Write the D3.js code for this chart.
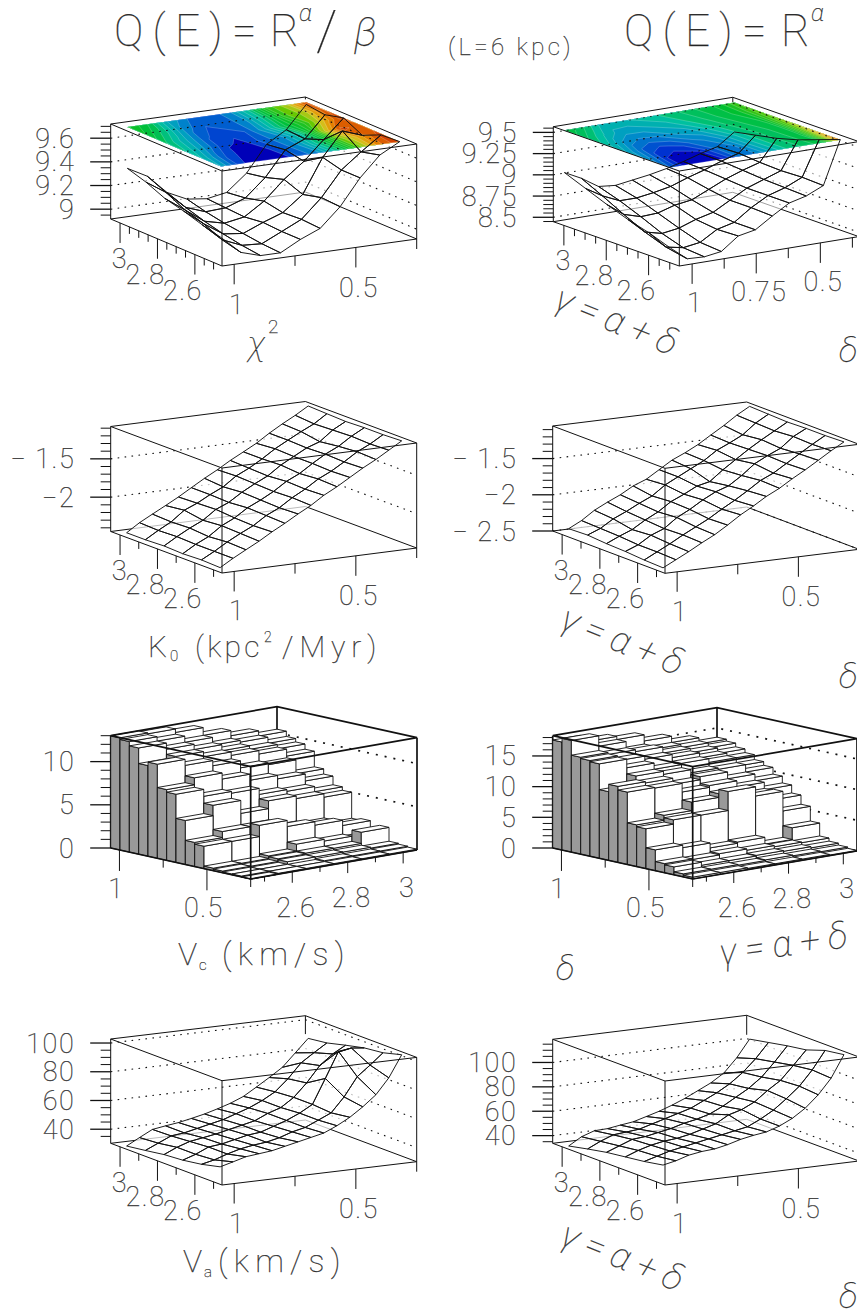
<!DOCTYPE html>
<html>
<head>
<meta charset="utf-8">
<script src="https://cdn.jsdelivr.net/npm/d3@7"></script>
<style>
	html, body { margin: 0; padding: 0; background: #fff; }
	svg { display: block; }
	text { font-family: Roboto, 'Open Sans', sans-serif; font-weight: 100; fill: #222; stroke: #444; stroke-width: 0.25px; letter-spacing: 1.5px; opacity: 0.99; }
	text.greek { font-style: italic; letter-spacing: 0; }
</style>
</head>
<body>
<svg id="main-vis" width="857" height="1315"></svg>
<script>
// GRID OF THE SCANS
const gamma_nodes = [2.5, 2.6, 2.7, 2.8, 2.9, 3.0]
const delta_nodes = [1.023, 0.97, 0.917, 0.863, 0.81, 0.757, 0.703, 0.65, 0.597, 0.543, 0.49, 0.437, 0.383, 0.33, 0.277]
const delta_nodes_chi2_left = [1.02, 0.938, 0.857, 0.775, 0.693, 0.612, 0.53, 0.448, 0.367, 0.285]
const delta_nodes_chi2_right = [1.048, 0.982, 0.915, 0.849, 0.783, 0.716, 0.65, 0.584, 0.518, 0.451, 0.385]

// CHI2 (ROWS ARE GAMMA, COLUMNS ARE DELTA)
const chi2_left = [
	[9.12, 8.97, 8.92, 8.92, 9.01, 9.08, 9.24, 9.46, 9.63, 9.72],
	[9.16, 9.01, 8.94, 8.93, 9.01, 9.09, 9.25, 9.46, 9.59, 9.71],
	[9.21, 9.08, 8.97, 8.95, 9.02, 9.08, 9.21, 9.50, 9.70, 9.64],
	[9.25, 9.13, 9.01, 8.97, 9.00, 9.11, 9.27, 9.40, 9.56, 9.72],
	[9.32, 9.21, 9.06, 9.00, 9.01, 9.07, 9.22, 9.43, 9.50, 9.68],
	[9.37, 9.28, 9.12, 9.04, 9.02, 9.05, 9.19, 9.41, 9.51, 9.70]
]
const chi2_right = [
	[8.62, 8.46, 8.45, 8.48, 8.63, 8.67, 8.80, 8.92, 8.97, 9.06, 9.57],
	[8.71, 8.51, 8.47, 8.50, 8.62, 8.67, 8.81, 8.92, 8.98, 9.07, 9.48],
	[8.78, 8.60, 8.55, 8.58, 8.65, 8.70, 8.81, 8.92, 8.99, 9.06, 9.39],
	[8.87, 8.72, 8.66, 8.67, 8.73, 8.76, 8.85, 8.94, 9.01, 9.07, 9.32],
	[8.97, 8.85, 8.76, 8.76, 8.79, 8.83, 8.90, 8.96, 9.03, 9.09, 9.27],
	[9.07, 8.97, 8.84, 8.82, 8.85, 8.88, 8.92, 8.97, 9.03, 9.08, 9.22]
]
// K0
const k0_left = [
	[-2.43, -2.33, -2.24, -2.15, -2.05, -1.96, -1.86, -1.77, -1.66, -1.57, -1.47, -1.37, -1.28, -1.18, -1.08],
	[-2.42, -2.33, -2.23, -2.14, -2.06, -1.95, -1.87, -1.76, -1.67, -1.56, -1.48, -1.38, -1.27, -1.19, -1.09],
	[-2.43, -2.33, -2.25, -2.13, -2.05, -1.94, -1.86, -1.77, -1.66, -1.58, -1.47, -1.37, -1.29, -1.18, -1.09],
	[-2.42, -2.32, -2.23, -2.15, -2.03, -1.96, -1.85, -1.76, -1.68, -1.56, -1.47, -1.38, -1.32, -1.19, -1.10],
	[-2.43, -2.33, -2.24, -2.11, -2.04, -1.95, -1.87, -1.75, -1.67, -1.57, -1.46, -1.37, -1.28, -1.20, -1.09],
	[-2.43, -2.32, -2.23, -2.14, -2.05, -1.95, -1.85, -1.76, -1.66, -1.57, -1.48, -1.37, -1.27, -1.18, -1.08]
]
const k0_right = [
	[-2.48, -2.39, -2.30, -2.20, -2.11, -2.00, -1.88, -1.78, -1.67, -1.58, -1.47, -1.37, -1.26, -1.15, -1.05],
	[-2.47, -2.38, -2.29, -2.19, -2.10, -2.01, -1.90, -1.80, -1.69, -1.57, -1.49, -1.38, -1.27, -1.16, -1.06],
	[-2.45, -2.38, -2.27, -2.20, -2.07, -1.98, -1.87, -1.78, -1.72, -1.60, -1.46, -1.37, -1.29, -1.15, -1.06],
	[-2.44, -2.36, -2.29, -2.18, -2.09, -1.97, -1.89, -1.80, -1.76, -1.62, -1.50, -1.38, -1.27, -1.17, -1.07],
	[-2.42, -2.35, -2.24, -2.16, -2.07, -1.99, -1.86, -1.77, -1.68, -1.59, -1.47, -1.39, -1.30, -1.16, -1.06],
	[-2.43, -2.34, -2.22, -2.13, -2.05, -1.95, -1.88, -1.77, -1.66, -1.58, -1.49, -1.38, -1.27, -1.15, -1.05]
]
// VA
const va_left = [
	[40.1, 42.5, 45, 46, 47, 49, 51, 53, 55, 59, 63.8, 70, 77.3, 88, 103],
	[37, 39, 42, 44.5, 46, 47, 49, 52, 54, 58, 62, 72, 85, 92, 99.5],
	[35, 38, 42, 43, 45, 47, 48, 51, 54, 58, 63, 80, 97.7, 99, 98],
	[34, 38, 41, 42.5, 44, 46, 48, 50, 54, 57, 63, 72, 83, 90, 95],
	[32, 36, 40, 41, 43, 45, 47, 50, 53, 57, 62, 70, 80, 86, 91.7],
	[30.2, 35, 39.6, 41, 42.2, 44, 46, 48.5, 51.3, 55, 60.4, 66, 72, 81, 90]
]
const va_right = [
	[46.8, 49, 52.3, 54, 54.8, 57, 60, 62, 63.5, 67, 72, 79, 88.7, 101, 119],
	[44, 47, 50, 52, 54, 56, 58, 60, 62, 67, 73, 81, 90, 102, 116.7],
	[42, 46, 49, 51, 52, 54, 57, 60, 66, 69, 74, 82, 89, 100, 111.4],
	[40, 44, 48, 49, 51, 53, 56, 58, 61, 66, 72, 78, 86, 97, 109],
	[37, 42, 46, 47, 48, 51, 54, 57, 60, 65, 70, 76, 84, 94, 106],
	[33.7, 40, 43.6, 44, 45.6, 47, 50, 53, 56.7, 61, 66, 71, 77.8, 89, 103]
]
// VC HISTOGRAMS (ROWS ARE DELTA BINS FROM 1.05 DOWN, COLUMNS ARE GAMMA BINS)
const vc_left = [
	[13, 12.9, 12.5, 11.6, 11, 10.4],
	[12.8, 12.3, 11.6, 10.7, 10.5, 9.8],
	[12.3, 11.6, 11, 10.3, 9.9, 9.4],
	[10.5, 11, 10.4, 10, 9.6, 8.8],
	[10.9, 10.2, 9.6, 8.8, 8.6, 7],
	[8.2, 9, 8.3, 7.6, 7.2, 6.4],
	[7.9, 7.1, 6.9, 6.2, 6, 5.4],
	[5.1, 6.3, 4.8, 5.7, 5.4, 5],
	[2.8, 3.5, 3.5, 2.8, 2.6, 2],
	[2.6, 2.6, 3.9, 3.2, 2.8, 2.2],
	[0.3, 0.3, 0.6, 1.4, 1.2, 1],
	[0.2, 0.2, 0.5, 0.6, 0.6, 1.9],
	[0.1, 0.1, 0.4, 0.4, 0.4, 0.3],
	[0.1, 0.1, 0.1, 0.2, 0.2, 0.2],
	[0, 0.1, 0.1, 0.1, 0.1, 0.1]
]
const vc_right = [
	[17.6, 17, 16.5, 15.5, 14.5, 13.5],
	[18.2, 16.5, 15, 14.5, 14, 13.2],
	[15.8, 15.5, 15.2, 14.2, 13.5, 12.6],
	[15.6, 14.8, 14.3, 13.8, 13, 12],
	[15.4, 14, 13, 13.2, 12.6, 11.2],
	[11.2, 13, 12.5, 12, 11.8, 10.6],
	[12.4, 12.2, 11.2, 11.7, 10.6, 9.5],
	[11.8, 11.7, 10.3, 10.6, 9.6, 8.4],
	[6.8, 7.6, 9, 9.6, 8.6, 7.1],
	[6.5, 7.2, 7.2, 10.3, 8.8, 5.6],
	[3.4, 3, 2.2, 2.4, 1.3, 3.2],
	[1.5, 1.4, 1.6, 1.4, 1.2, 1.1],
	[1.3, 0.8, 0.8, 0.9, 0.8, 0.6],
	[0.5, 0.5, 0.4, 0.5, 0.4, 0.3],
	[0.3, 0.3, 0.2, 0.2, 0.2, 0.1]
]
// TICKS
const gamma_ticks = [2.6, 2.8, 3]
const gamma_labels = ['2.6', '2.8', '3']
const delta_ticks = [1, 0.5]
const delta_labels = ['1', '0.5']
const delta_ticks_fine = [1, 0.75, 0.5]
const delta_labels_fine = ['1', '0.75', '0.5']

// ROOT LIKE RAINBOW FOR THE TOP PLANE
const palette = d3.scaleLinear()
.domain([0, 0.1, 0.2, 0.3, 0.4, 0.5, 0.6, 0.7, 0.8, 0.9, 1])
.range(['#0000b8', '#0018d0', '#0058d0', '#0098c8', '#00c0a0', '#00c030', '#60c800', '#d0c820', '#e89000', '#d85000', '#cc3000'])

const svg = d3.select('svg#main-vis')
const pathline = d3.line()
let clip_id = 0

function txt (str, x, y, size, opts = {}) {
	const { anchor = 'start', rot = 0, len = null, greek = false } = opts
	const t = svg.append('text')
	.attr('x', x).attr('y', y)
	.attr('font-size', size)
	.attr('text-anchor', anchor)
	.classed('greek', greek)
	.text(str)
	if (len) t.attr('textLength', len).attr('lengthAdjust', 'spacing')
	if (rot) t.attr('transform', `rotate(${rot} ${x} ${y})`)
	return t
}

function makeBox (c, domains) {
	const { F, R, L, top } = c
	const ex = [R[0] - F[0], R[1] - F[1]]
	const ey = [L[0] - F[0], L[1] - F[1]]
	const h = F[1] - top
	const su = d3.scaleLinear().domain(domains.u).range([0, 1])
	const sv = d3.scaleLinear().domain(domains.v).range([0, 1])
	const sw = d3.scaleLinear().domain(domains.z).range([0, 1])
	// RAW PROJECTION WITH UNIT COORDINATES
	const raw = (u, v, w) => [F[0] + u * ex[0] + v * ey[0], F[1] + u * ex[1] + v * ey[1] - w * h]
	const pt = (a, b, z) => raw(su(a), sv(b), sw(z))
	return { raw, pt, su, sv, sw, h }
}

// THE BACK EDGE STOPS WHERE THE SURFACE HIDES IT
function drawBack (b, p, back_stop) {
	const { raw, sw } = b
	const g = svg.append('g').attr('fill', 'none').attr('stroke', '#111').attr('stroke-width', p.box_width)
	const seg = (pts) => g.append('path').attr('d', pathline(pts))
	seg([raw(0, 1, 0), raw(1, 1, 0), raw(1, 0, 0)])
	seg([raw(1, 1, sw(back_stop)), raw(1, 1, 1)])
	seg([raw(0, 1, 0), raw(0, 1, 1)])
	seg([raw(1, 0, 0), raw(1, 0, 1)])
	// DOTTED WALL GRID
	p.z_major.forEach(z => {
		g.append('path')
		.attr('d', pathline([raw(0, 1, sw(z)), raw(1, 1, sw(z)), raw(1, 0, sw(z))]))
		.attr('stroke-width', p.dot_width)
		.attr('stroke-dasharray', p.dots)
	})
}

function drawFront (b, p) {
	const { raw } = b
	const g = svg.append('g').attr('fill', 'none').attr('stroke', '#111').attr('stroke-width', p.box_width)
	const seg = (pts) => g.append('path').attr('d', pathline(pts))
	seg([raw(0, 1, 1), raw(1, 1, 1), raw(1, 0, 1), raw(0, 0, 1), raw(0, 1, 1)])
	seg([raw(0, 0, 0), raw(0, 0, 1)])
	seg([raw(0, 1, 0), raw(0, 0, 0), raw(1, 0, 0)])
}

function drawZAxis (b, p) {
	const { raw, sw } = b
	const g = svg.append('g').attr('stroke', '#111').attr('stroke-width', 1)
	const [z0, z1] = p.z
	d3.range(Math.ceil(z0 / p.z_minor - 1e-6), Math.floor(z1 / p.z_minor + 1e-6) + 1).map(i => i * p.z_minor).forEach(z => {
		const [x, y] = raw(0, 1, sw(z))
		const major = p.z_major.some(m => Math.abs(m - z) < 1e-6)
		g.append('line').attr('x1', x - (major ? 20.5 : 10)).attr('x2', x).attr('y1', y).attr('y2', y)
		.attr('stroke-width', major ? 1.3 : 1)
	})
	p.z_major.forEach((z, i) => {
		const [x, y] = raw(0, 1, sw(z))
		txt(p.z_labels[i], x - 35.5, y + 9.5, 27, { anchor: 'end' })
	})
}

// TICKS BELOW AN EDGE, EITHER ALONG U OR ALONG V
function drawEdgeAxis (pos, ticks, labels, minors, o) {
	const g = svg.append('g').attr('stroke', '#111').attr('stroke-width', 1)
	ticks.forEach((t, i) => {
		const [x, y] = pos(t)
		g.append('line').attr('x1', x).attr('x2', x).attr('y1', y).attr('y2', y + o.major)
		txt(labels[i], x + o.dx, y + o.major + o.dy, 27, { anchor: o.anchor })
	})
	minors.forEach(t => {
		const [x, y] = pos(t)
		g.append('line').attr('x1', x).attr('x2', x).attr('y1', y).attr('y2', y + o.minor)
	})
}

function drawSurface (p) {
	const b = makeBox(p.corners, { u: [1.05, p.delta_end], v: [2.455, 3.05], z: p.z })
	const { data, nodes } = p
	drawBack(b, p, data[data.length - 1][nodes.length - 1])
	const cells = []
	d3.range(gamma_nodes.length - 2, -1, -1).forEach(j => {
		d3.range(nodes.length - 2, -1, -1).forEach(i => {
			cells.push([
				b.pt(nodes[i], gamma_nodes[j], data[j][i]),
				b.pt(nodes[i + 1], gamma_nodes[j], data[j][i + 1]),
				b.pt(nodes[i + 1], gamma_nodes[j + 1], data[j + 1][i + 1]),
				b.pt(nodes[i], gamma_nodes[j + 1], data[j + 1][i])
			])
		})
	})
	// WHITE UNDERLAY, THE WALLS STILL SHOW A LITTLE THROUGH IT
	svg.append('g').selectAll('path').data(cells).join('path')
	.attr('d', d => pathline(d) + 'Z')
	.attr('fill', '#fff').attr('fill-opacity', p.tone ? 0.6 : 0.72).attr('stroke', 'none')
	if (p.tone) drawContour(b, p)
	svg.append('g').selectAll('path').data(cells).join('path')
	.attr('d', d => pathline(d) + 'Z')
	.attr('fill', 'none').attr('stroke', '#111').attr('stroke-width', 0.95)
	drawFront(b, p)
	drawZAxis(b, p)
	// GAMMA AXIS ALONG THE LEFT BOTTOM EDGE
	const gamma_pos = g => b.pt(1.05, g, p.z[0])
	drawEdgeAxis(gamma_pos, gamma_ticks, gamma_labels, p.gamma_minor, { major: 20, minor: 7, anchor: 'end', dx: p.gamma_dx, dy: 25 })
	// DELTA AXIS ALONG THE RIGHT BOTTOM EDGE
	const delta_pos = d => b.pt(d, 2.455, p.z[0])
	drawEdgeAxis(delta_pos, p.delta_ticks, p.delta_labels, p.delta_minor, { major: 20, minor: 10, anchor: 'middle', dx: 3, dy: p.delta_dy })
}

function drawContour (b, p) {
	const { data, nodes } = p
	const nx = nodes.length
	const ny = gamma_nodes.length
	const flat = data.flat()
	const [lo, hi] = d3.extent(flat)
	const thresholds = d3.range(0, 20).map(i => lo + (hi - lo) * i / 20)
	const contours = d3.contours().size([nx, ny]).thresholds(thresholds)(flat)
	const dscale = d3.scaleLinear().domain(d3.range(nx)).range(nodes)
	const gscale = d3.scaleLinear().domain(d3.range(ny)).range(gamma_nodes)
	const tone = d3.scaleLinear().domain(p.tone[0]).range(p.tone[1])
	const clamp = (v, n) => Math.max(0, Math.min(n - 1, v - 0.5))
	const proj = c => b.pt(dscale(clamp(c[0], nx)), gscale(clamp(c[1], ny)), p.z[1])
	const g = svg.append('g')
	contours.forEach(c => {
		const d = c.coordinates.map(poly => poly.map(ring => pathline(ring.map(proj)) + 'Z').join('')).join('')
		g.append('path').attr('d', d)
		.attr('fill-rule', 'evenodd')
		.attr('fill', palette(tone((c.value - lo) / (hi - lo))))
		.attr('stroke', 'rgba(255,255,255,0.35)').attr('stroke-width', 0.6)
	})
	// DOTS SHOW OVER THE COLOURED PLANE ONLY
	const id = `plane-${clip_id++}`
	const top_z = p.z[1]
	const plane = [
		b.pt(nodes[0], gamma_nodes[0], top_z),
		b.pt(nodes[nx - 1], gamma_nodes[0], top_z),
		b.pt(nodes[nx - 1], gamma_nodes[ny - 1], top_z),
		b.pt(nodes[0], gamma_nodes[ny - 1], top_z)
	]
	svg.append('clipPath').attr('id', id).append('path').attr('d', pathline(plane) + 'Z')
	const dots = svg.append('g').attr('clip-path', `url(#${id})`)
	const raw = b.raw
	p.z_major.forEach(z => {
		dots.append('path')
		.attr('d', pathline([raw(0, 1, b.sw(z)), raw(1, 1, b.sw(z)), raw(1, 0, b.sw(z))]))
		.attr('fill', 'none').attr('stroke', '#111').attr('stroke-width', p.dot_width)
		.attr('stroke-dasharray', p.dots)
	})
}

function drawLego (p) {
	const b = makeBox(p.corners, { u: [2.45, 3.05], v: [0.25, 1.05], z: p.z })
	drawBack(b, p, 0)
	const nd = p.data.length
	const ng = p.data[0].length
	const dedge = d3.scaleLinear().domain([0, nd]).range([1.05, 0.25])
	const gedge = d3.scaleLinear().domain([0, ng]).range([2.45, 3.05])
	const bars = []
	d3.range(nd).forEach(i => {
		d3.range(ng - 1, -1, -1).forEach(j => {
			bars.push({ d0: dedge(i), d1: dedge(i + 1), g0: gedge(j), g1: gedge(j + 1), z: p.data[i][j] })
		})
	})
	const g = svg.append('g').attr('stroke', '#111').attr('stroke-width', 0.9)
	bars.forEach(d => {
		const { d0, d1, g0, g1, z } = d
		const poly = (pts, fill) => g.append('path').attr('d', pathline(pts) + 'Z').attr('fill', fill)
		poly([b.pt(g0, d0, 0), b.pt(g0, d1, 0), b.pt(g0, d1, z), b.pt(g0, d0, z)], '#999')
		poly([b.pt(g0, d1, 0), b.pt(g1, d1, 0), b.pt(g1, d1, z), b.pt(g0, d1, z)], '#fff')
		poly([b.pt(g0, d0, z), b.pt(g0, d1, z), b.pt(g1, d1, z), b.pt(g1, d0, z)], '#fff')
	})
	drawFront(b, p)
	drawZAxis(b, p)
	const delta_pos = d => b.pt(2.45, d, 0)
	drawEdgeAxis(delta_pos, delta_ticks, delta_labels, [0.75, 0.25], { major: 21, minor: 8, anchor: 'middle', dx: -3, dy: 27 })
	const gamma_pos = g => b.pt(g, 0.25, 0)
	drawEdgeAxis(gamma_pos, gamma_ticks, gamma_labels, [2.5, 2.7, 2.9], { major: 11, minor: 5, anchor: 'middle', dx: 4, dy: 34 })
}

const plain = { box_width: 1, dot_width: 1.1, dots: '1.6 5.4' }
const bold = { box_width: 1.7, dot_width: 1.7, dots: '2 7' }

drawSurface({ ...plain, nodes: delta_nodes_chi2_left, data: chi2_left, delta_end: 0.25,
	tone: [[0, 0.02, 0.05, 0.1, 0.2, 0.4, 0.6, 0.75, 0.9, 1], [0, 0.12, 0.17, 0.21, 0.32, 0.47, 0.55, 0.72, 0.88, 1]],
	corners: { F: [222, 266], R: [416.7, 239], L: [110.7, 219], top: 171 },
	z: [8.917, 9.72], z_major: [9, 9.2, 9.4, 9.6], z_labels: ['9', '9.2', '9.4', '9.6'], z_minor: 0.05,
	gamma_minor: [2.5, 2.55, 2.65, 2.7, 2.75, 2.85, 2.9, 2.95], gamma_dx: 8,
	delta_ticks, delta_labels, delta_minor: [0.75, 0.25], delta_dy: 30 })
drawSurface({ ...plain, nodes: delta_nodes_chi2_right, data: chi2_right, delta_end: 0.35,
	tone: [[0, 0.05, 0.15, 0.3, 0.4, 0.55, 0.7, 0.85, 0.95, 1], [0.02, 0.14, 0.24, 0.36, 0.44, 0.5, 0.58, 0.72, 0.85, 0.95]],
	corners: { F: [679.3, 266], R: [858.8, 236.6], L: [553.3, 221.7], top: 171 },
	z: [8.448, 9.567], z_major: [8.5, 8.75, 9, 9.25, 9.5], z_labels: ['8.5', '8.75', '9', '9.25', '9.5'], z_minor: 0.05,
	gamma_minor: [2.5, 2.55, 2.65, 2.7, 2.75, 2.85, 2.9, 2.95], gamma_dx: 8,
	delta_ticks: delta_ticks_fine, delta_labels: delta_labels_fine, delta_minor: [0.875, 0.625, 0.375], delta_dy: 28 })
drawSurface({ ...plain, nodes: delta_nodes, data: k0_left, delta_end: 0.25,
	corners: { F: [222, 573], R: [416.7, 548], L: [110.7, 531.5], top: 468 },
	z: [-2.448, -1.078], z_major: [-2, -1.5], z_labels: ['\u22122', '\u2212 1.5'], z_minor: 0.1,
	gamma_minor: [2.5, 2.7, 2.9], gamma_dx: 8,
	delta_ticks, delta_labels, delta_minor: [0.75, 0.25], delta_dy: 29 })
drawSurface({ ...plain, nodes: delta_nodes, data: k0_right, delta_end: 0.25,
	corners: { F: [665, 573.3], R: [859, 549.3], L: [552.7, 531], top: 468.3 },
	z: [-2.5, -1.05], z_major: [-2.5, -2, -1.5], z_labels: ['\u2212 2.5', '\u22122', '\u2212 1.5'], z_minor: 0.1,
	gamma_minor: [2.5, 2.7, 2.9], gamma_dx: 8,
	delta_ticks, delta_labels, delta_minor: [0.75, 0.25], delta_dy: 29 })
drawLego({ ...bold, data: vc_left,
	corners: { F: [250.7, 879], R: [417, 850], L: [110.7, 848], top: 766.7 },
	z: [0, 13], z_major: [0, 5, 10], z_labels: ['0', '5', '10'], z_minor: 1 })
drawLego({ ...bold, data: vc_right,
	corners: { F: [692.7, 879], R: [857, 851], L: [552.7, 848], top: 766.7 },
	z: [0, 18.3], z_major: [0, 5, 10, 15], z_labels: ['0', '5', '10', '15'], z_minor: 1 })
drawSurface({ ...plain, nodes: delta_nodes, data: va_left, delta_end: 0.25,
	corners: { F: [222, 1185], R: [416.7, 1161.7], L: [110.7, 1143.3], top: 1080.7 },
	z: [30.2, 102.8], z_major: [40, 60, 80, 100], z_labels: ['40', '60', '80', '100'], z_minor: 5,
	gamma_minor: [2.5, 2.7, 2.9], gamma_dx: 8,
	delta_ticks, delta_labels, delta_minor: [0.75, 0.25], delta_dy: 29 })
drawSurface({ ...plain, nodes: delta_nodes, data: va_right, delta_end: 0.25,
	corners: { F: [665, 1185], R: [859, 1161], L: [552.7, 1143.3], top: 1081 },
	z: [33.7, 119], z_major: [40, 60, 80, 100], z_labels: ['40', '60', '80', '100'], z_minor: 5,
	gamma_minor: [2.5, 2.7, 2.9], gamma_dx: 8,
	delta_ticks, delta_labels, delta_minor: [0.75, 0.25], delta_dy: 29 })

// TITLES
txt('Q(E)=', 114, 46, 44, { len: 144 })
txt('R', 270, 46, 44)
txt('\u03b1', 299, 21, 24, { greek: true })
txt('/', 316, 50, 56)
txt('\u03b2', 354, 46, 40, { greek: true })
txt('(L=6 kpc)', 448, 55, 24, { len: 124 })
txt('Q(E)=', 624, 46, 44, { len: 144 })
txt('R', 781, 46, 44)
txt('\u03b1', 811, 21, 24, { greek: true })

// AXIS TITLES
txt('\u03c7', 248, 355, 34, { greek: true })
txt('2', 268, 333, 19)
const gamma_title = (cx, cy, rot) => txt('\u03b3=\u03b1+\u03b4', cx, cy, 36, { greek: true, rot, anchor: 'middle', len: 128 })
gamma_title(612, 332, 22)
txt('\u03b4', 839, 362, 34, { greek: true })
txt('K', 148, 657, 30)
txt('0', 170, 661, 15)
txt('(kpc', 195, 657, 30, { len: 66 })
txt('2', 264, 642, 14)
txt('/Myr)', 282, 657, 30, { len: 96 })
gamma_title(618, 652, 22)
txt('\u03b4', 839, 688, 34, { greek: true })
txt('V', 178, 965, 32)
txt('c', 199, 970, 15)
txt('(km/s)', 222, 965, 32, { len: 124 })
txt('\u03b4', 556, 980, 34, { greek: true })
gamma_title(785, 956, -8)
txt('V', 183, 1272, 32)
txt('a', 204, 1277, 15)
txt('(km/s)', 218, 1272, 32, { len: 124 })
gamma_title(618, 1268, 22)
txt('\u03b4', 839, 1308, 34, { greek: true })
</script>
</body>
</html>
